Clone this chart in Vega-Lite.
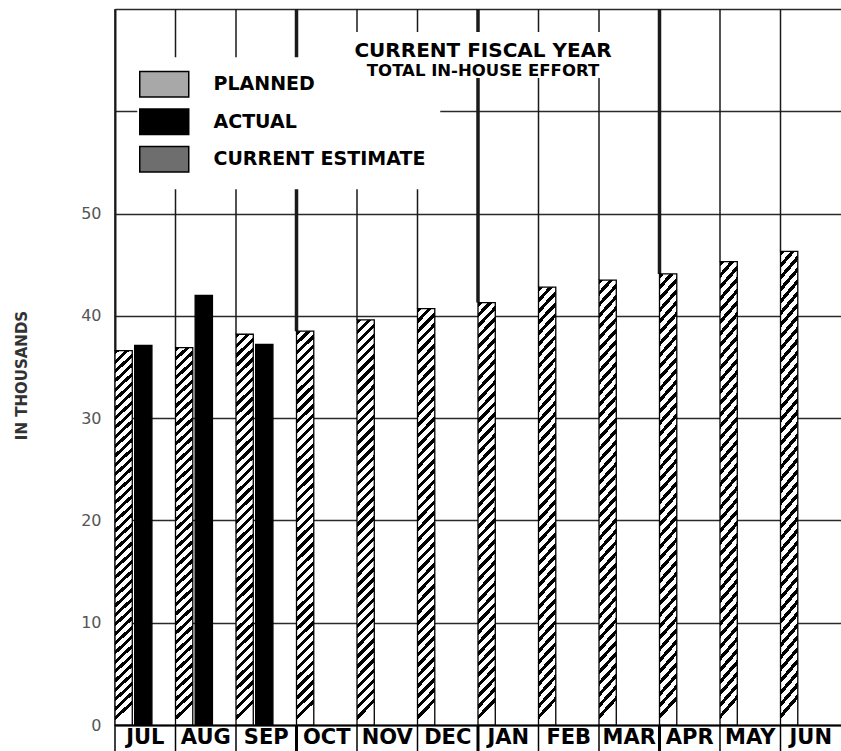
{
  "$schema": "https://vega.github.io/schema/vega-lite/v6.json",
  "autosize": {"type": "none"},
  "padding": {"left": 115, "top": 9, "right": 0, "bottom": 26},
  "width": 726,
  "height": 716,
  "background": "white",
  "config": {"view": {"stroke": null}, "font": "DejaVu Sans"},
  "title": {
    "text": "CURRENT FISCAL YEAR",
    "subtitle": "TOTAL IN-HOUSE EFFORT",
    "anchor": "middle",
    "frame": "group",
    "offset": -72,
    "dx": 5,
    "font": "DejaVu Sans",
    "fontSize": 20,
    "fontWeight": "bold",
    "color": "#000",
    "subtitleFont": "DejaVu Sans",
    "subtitleFontSize": 16.5,
    "subtitleFontWeight": "bold",
    "subtitleColor": "#000",
    "subtitlePadding": 2
  },
  "data": {
    "values": [
      {"month": "JUL", "series": "PLANNED", "value": 36.6},
      {"month": "AUG", "series": "PLANNED", "value": 36.9},
      {"month": "SEP", "series": "PLANNED", "value": 38.2},
      {"month": "OCT", "series": "PLANNED", "value": 38.5},
      {"month": "NOV", "series": "PLANNED", "value": 39.6},
      {"month": "DEC", "series": "PLANNED", "value": 40.7},
      {"month": "JAN", "series": "PLANNED", "value": 41.3},
      {"month": "FEB", "series": "PLANNED", "value": 42.8},
      {"month": "MAR", "series": "PLANNED", "value": 43.5},
      {"month": "APR", "series": "PLANNED", "value": 44.1},
      {"month": "MAY", "series": "PLANNED", "value": 45.3},
      {"month": "JUN", "series": "PLANNED", "value": 46.3},
      {"month": "JUL", "series": "ACTUAL", "value": 37.1},
      {"month": "AUG", "series": "ACTUAL", "value": 42.0},
      {"month": "SEP", "series": "ACTUAL", "value": 37.2}
    ]
  },
  "layer": [
    {
      "transform": [{"filter": "datum.series === 'PLANNED'"}],
      "mark": {"type": "rule", "color": "#1a1a1a"},
      "encoding": {
        "x": {"field": "month", "type": "nominal", "bandPosition": 0,
              "scale": {"domain": ["JUL","AUG","SEP","OCT","NOV","DEC","JAN","FEB","MAR","APR","MAY","JUN"], "paddingInner": 0, "paddingOuter": 0}},
        "y": {"field": "value", "type": "quantitative"},
        "y2": {"datum": 70},
        "strokeWidth": {"condition": {"test": "indexof(['OCT','JAN','APR'], datum.month) >= 0", "value": 3.5}, "value": 1.5}
      }
    },
    {
      "mark": {"type": "bar", "stroke": "#000", "strokeWidth": 1.3},
      "encoding": {
        "x": {
          "field": "month", "type": "nominal",
          "scale": {"domain": ["JUL","AUG","SEP","OCT","NOV","DEC","JAN","FEB","MAR","APR","MAY","JUN"], "paddingInner": 0, "paddingOuter": 0},
          "axis": {
            "title": null, "orient": "bottom", "domain": true, "domainColor": "#000", "domainWidth": 2,
            "ticks": false, "labels": false, "grid": false
          }
        },
        "xOffset": {"field": "series", "type": "nominal",
                    "scale": {"domain": ["PLANNED", "ACTUAL", "_"], "paddingInner": 0.12, "paddingOuter": 0.1, "align": 0}},
        "y": {
          "field": "value", "type": "quantitative",
          "scale": {"domain": [0, 70], "nice": false, "zero": true},
          "axis": {
            "values": [0, 10, 20, 30, 40, 50, 60, 70],
            "labelExpr": "datum.value <= 50 ? datum.label : ''",
            "grid": true, "gridColor": "#2a2a2a", "gridWidth": 1.5,
            "domain": true, "domainColor": "#1a1a1a", "domainWidth": 2,
            "ticks": false, "labelPadding": 14,
            "labelFont": "DejaVu Sans", "labelFontSize": 16, "labelColor": "#555",
            "title": "IN THOUSANDS", "titleFont": "DejaVu Sans", "titleFontSize": 15, "titleFontWeight": "bold",
            "titleColor": "#333", "titleAngle": -90, "titleX": -94, "titleY": 366,
            "titleAlign": "center", "titleBaseline": "middle"
          }
        },
        "fill": {
          "field": "series", "type": "nominal",
          "scale": {"domain": ["PLANNED", "ACTUAL", "CURRENT ESTIMATE"], "range": ["#a8a8a8", "#000000", "#6e6e6e"]},
          "condition": {
            "test": "datum.series === 'PLANNED'",
            "value": {"gradient": "linear", "x1": 0, "y1": 0, "x2": 0.043, "y2": 1, "stops": [
              {"offset":0,"color":"#000"},{"offset":0.011,"color":"#000"},{"offset":0.011,"color":"#fff"},{"offset":0.025,"color":"#fff"},
              {"offset":0.025,"color":"#000"},{"offset":0.036,"color":"#000"},{"offset":0.036,"color":"#fff"},{"offset":0.05,"color":"#fff"},
              {"offset":0.05,"color":"#000"},{"offset":0.061,"color":"#000"},{"offset":0.061,"color":"#fff"},{"offset":0.075,"color":"#fff"},
              {"offset":0.075,"color":"#000"},{"offset":0.086,"color":"#000"},{"offset":0.086,"color":"#fff"},{"offset":0.1,"color":"#fff"},
              {"offset":0.1,"color":"#000"},{"offset":0.111,"color":"#000"},{"offset":0.111,"color":"#fff"},{"offset":0.125,"color":"#fff"},
              {"offset":0.125,"color":"#000"},{"offset":0.136,"color":"#000"},{"offset":0.136,"color":"#fff"},{"offset":0.15,"color":"#fff"},
              {"offset":0.15,"color":"#000"},{"offset":0.161,"color":"#000"},{"offset":0.161,"color":"#fff"},{"offset":0.175,"color":"#fff"},
              {"offset":0.175,"color":"#000"},{"offset":0.186,"color":"#000"},{"offset":0.186,"color":"#fff"},{"offset":0.2,"color":"#fff"},
              {"offset":0.2,"color":"#000"},{"offset":0.211,"color":"#000"},{"offset":0.211,"color":"#fff"},{"offset":0.225,"color":"#fff"},
              {"offset":0.225,"color":"#000"},{"offset":0.236,"color":"#000"},{"offset":0.236,"color":"#fff"},{"offset":0.25,"color":"#fff"},
              {"offset":0.25,"color":"#000"},{"offset":0.261,"color":"#000"},{"offset":0.261,"color":"#fff"},{"offset":0.275,"color":"#fff"},
              {"offset":0.275,"color":"#000"},{"offset":0.286,"color":"#000"},{"offset":0.286,"color":"#fff"},{"offset":0.3,"color":"#fff"},
              {"offset":0.3,"color":"#000"},{"offset":0.311,"color":"#000"},{"offset":0.311,"color":"#fff"},{"offset":0.325,"color":"#fff"},
              {"offset":0.325,"color":"#000"},{"offset":0.336,"color":"#000"},{"offset":0.336,"color":"#fff"},{"offset":0.35,"color":"#fff"},
              {"offset":0.35,"color":"#000"},{"offset":0.361,"color":"#000"},{"offset":0.361,"color":"#fff"},{"offset":0.375,"color":"#fff"},
              {"offset":0.375,"color":"#000"},{"offset":0.386,"color":"#000"},{"offset":0.386,"color":"#fff"},{"offset":0.4,"color":"#fff"},
              {"offset":0.4,"color":"#000"},{"offset":0.411,"color":"#000"},{"offset":0.411,"color":"#fff"},{"offset":0.425,"color":"#fff"},
              {"offset":0.425,"color":"#000"},{"offset":0.436,"color":"#000"},{"offset":0.436,"color":"#fff"},{"offset":0.45,"color":"#fff"},
              {"offset":0.45,"color":"#000"},{"offset":0.461,"color":"#000"},{"offset":0.461,"color":"#fff"},{"offset":0.475,"color":"#fff"},
              {"offset":0.475,"color":"#000"},{"offset":0.486,"color":"#000"},{"offset":0.486,"color":"#fff"},{"offset":0.5,"color":"#fff"},
              {"offset":0.5,"color":"#000"},{"offset":0.511,"color":"#000"},{"offset":0.511,"color":"#fff"},{"offset":0.525,"color":"#fff"},
              {"offset":0.525,"color":"#000"},{"offset":0.536,"color":"#000"},{"offset":0.536,"color":"#fff"},{"offset":0.55,"color":"#fff"},
              {"offset":0.55,"color":"#000"},{"offset":0.561,"color":"#000"},{"offset":0.561,"color":"#fff"},{"offset":0.575,"color":"#fff"},
              {"offset":0.575,"color":"#000"},{"offset":0.586,"color":"#000"},{"offset":0.586,"color":"#fff"},{"offset":0.6,"color":"#fff"},
              {"offset":0.6,"color":"#000"},{"offset":0.611,"color":"#000"},{"offset":0.611,"color":"#fff"},{"offset":0.625,"color":"#fff"},
              {"offset":0.625,"color":"#000"},{"offset":0.636,"color":"#000"},{"offset":0.636,"color":"#fff"},{"offset":0.65,"color":"#fff"},
              {"offset":0.65,"color":"#000"},{"offset":0.661,"color":"#000"},{"offset":0.661,"color":"#fff"},{"offset":0.675,"color":"#fff"},
              {"offset":0.675,"color":"#000"},{"offset":0.686,"color":"#000"},{"offset":0.686,"color":"#fff"},{"offset":0.7,"color":"#fff"},
              {"offset":0.7,"color":"#000"},{"offset":0.711,"color":"#000"},{"offset":0.711,"color":"#fff"},{"offset":0.725,"color":"#fff"},
              {"offset":0.725,"color":"#000"},{"offset":0.736,"color":"#000"},{"offset":0.736,"color":"#fff"},{"offset":0.75,"color":"#fff"},
              {"offset":0.75,"color":"#000"},{"offset":0.761,"color":"#000"},{"offset":0.761,"color":"#fff"},{"offset":0.775,"color":"#fff"},
              {"offset":0.775,"color":"#000"},{"offset":0.786,"color":"#000"},{"offset":0.786,"color":"#fff"},{"offset":0.8,"color":"#fff"},
              {"offset":0.8,"color":"#000"},{"offset":0.811,"color":"#000"},{"offset":0.811,"color":"#fff"},{"offset":0.825,"color":"#fff"},
              {"offset":0.825,"color":"#000"},{"offset":0.836,"color":"#000"},{"offset":0.836,"color":"#fff"},{"offset":0.85,"color":"#fff"},
              {"offset":0.85,"color":"#000"},{"offset":0.861,"color":"#000"},{"offset":0.861,"color":"#fff"},{"offset":0.875,"color":"#fff"},
              {"offset":0.875,"color":"#000"},{"offset":0.886,"color":"#000"},{"offset":0.886,"color":"#fff"},{"offset":0.9,"color":"#fff"},
              {"offset":0.9,"color":"#000"},{"offset":0.911,"color":"#000"},{"offset":0.911,"color":"#fff"},{"offset":0.925,"color":"#fff"},
              {"offset":0.925,"color":"#000"},{"offset":0.936,"color":"#000"},{"offset":0.936,"color":"#fff"},{"offset":0.95,"color":"#fff"},
              {"offset":0.95,"color":"#000"},{"offset":0.961,"color":"#000"},{"offset":0.961,"color":"#fff"},{"offset":0.975,"color":"#fff"},
              {"offset":0.975,"color":"#000"},{"offset":0.986,"color":"#000"},{"offset":0.986,"color":"#fff"},{"offset":1,"color":"#fff"}
            ]}
          },
          "legend": {
            "orient": "none", "legendX": 22.25, "legendY": 48.25, "title": null,
            "fillColor": "white", "padding": 14, "direction": "vertical",
            "symbolType": "M-2,-1.05H2V1.05H-2Z", "symbolSize": 600,
            "symbolStrokeColor": "#000", "symbolStrokeWidth": 1.5,
            "labelFont": "DejaVu Sans", "labelFontSize": 19, "labelFontWeight": "bold", "labelColor": "#000",
            "labelOffset": 36.25, "rowPadding": 5.5, "labelLimit": 400
          }
        }
      }
    },
    {
      "mark": {"type": "rect", "fill": "white"},
      "encoding": {
        "x": {"datum": "OCT", "bandPosition": 0.95},
        "x2": {"datum": "MAR", "bandPosition": 0.1},
        "y": {"datum": 63.3},
        "y2": {"datum": 67.7}
      }
    },
    {
      "transform": [{"filter": "datum.series === 'PLANNED'"}],
      "mark": {"type": "rule", "color": "#000"},
      "encoding": {
        "x": {"field": "month", "type": "nominal", "bandPosition": 0},
        "y": {"datum": -2.6},
        "y2": {"datum": 0},
        "strokeWidth": {"condition": {"test": "indexof(['OCT','JAN','APR'], datum.month) >= 0", "value": 3}, "value": 1.5}
      }
    },
    {
      "transform": [{"filter": "datum.series === 'PLANNED'"}],
      "mark": {"type": "text", "font": "DejaVu Sans", "fontSize": 21, "fontWeight": "bold", "color": "#000", "baseline": "middle", "align": "center"},
      "encoding": {
        "x": {"field": "month", "type": "nominal"},
        "y": {"datum": -1.3},
        "text": {"field": "month"}
      }
    }
  ]
}
